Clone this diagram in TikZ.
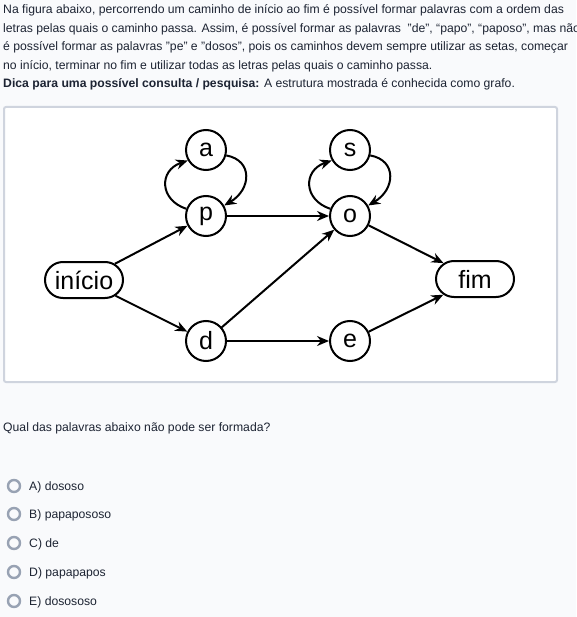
\documentclass[tikz,border=0pt]{standalone}
\usepackage{fontspec}
\setmainfont{Liberation Sans}
\usepackage{tikz}
\usetikzlibrary{shapes.misc}
\usetikzlibrary{arrows.meta}
\definecolor{fundo}{HTML}{F9FAFC}
\definecolor{moldura}{HTML}{CFD4DE}
\definecolor{texto}{HTML}{1D2433}
\definecolor{radio}{HTML}{98A2B3}
\tikzset{
  letra/.style={circle,draw,line width=2pt,minimum size=40pt,inner sep=0pt,
    font=\fontsize{25}{25}\selectfont}, % Buchstabenknoten
  ponta/.style={rounded rectangle,draw,line width=2pt,minimum width=82pt,
    minimum height=36pt,inner sep=2pt,font=\fontsize{25}{25}\selectfont}, % início / fim
  Seta/.style={line width=2pt,->}, % Kanten
  linha/.style={anchor=base west,inner sep=0pt,text=texto,
    font=\fontsize{12.2}{15}\selectfont}, % Textzeilen
  opcao/.style={circle,draw=radio,line width=2.4pt,minimum size=12pt,inner sep=0pt}
}

\begin{document}
\begin{tikzpicture}[x=1pt,y=-1pt,
>={Stealth[length=12pt,width=10pt]} % Voreinstellung für Pfeilspitzen
]
\useasboundingbox[fill=fundo] (0,0) rectangle (576,617);

%Text
\node[linha] (l1) at (3,14) {Na figura abaixo, percorrendo um caminho de início ao fim é possível formar palavras com a ordem das};
\node[linha] (l2) at (3,32.5) {letras pelas quais o caminho passa. Assim, é possível formar as palavras\ \ "de", “papo”, “paposo”, mas não};
\node[linha] (l3) at (3,51) {é possível formar as palavras "pe" e "dosos", pois os caminhos devem sempre utilizar as setas, começar};
\node[linha] (l4) at (3,69.5) {no início, terminar no fim e utilizar todas as letras pelas quais o caminho passa.};
\node[linha] (l5) at (3,88) {\bfseries Dica para uma possível consulta / pesquisa:\mdseries{} A estrutura mostrada é conhecida como grafo.};

%Rahmen
\draw[moldura,line width=2pt,fill=white,rounded corners=2pt] (4,107) rectangle (557,382);

%Knoten
\node[ponta] (inicio) at (84,280) {início};
\node[letra] (a) at (206,150) {a};
\node[letra] (p) at (206,216) {p};
\node[letra] (d) at (206,341) {d};
\node[letra] (s) at (350,150) {s};
\node[letra] (o) at (350,216) {o};
\node[letra] (e) at (350,341) {e};
\node[ponta] (fim) at (475,279) {fim};

%Kanten
\draw[Seta] (inicio) -- (p);
\draw[Seta] (inicio) -- (d);
\draw[Seta] (p) -- (o);
\draw[Seta] (d) -- (o);
\draw[Seta] (d) -- (e);
\draw[Seta] (o) -- (fim);
\draw[Seta] (e) -- (fim);
%Schleifen
\draw[Seta] (p.160) .. controls +(-27,-9) and +(-29,10) .. (a.210);
\draw[Seta] (a.-15) .. controls +(27,5) and +(27,-16) .. (p.30);
\draw[Seta] (o.160) .. controls +(-27,-9) and +(-29,10) .. (s.210);
\draw[Seta] (s.-15) .. controls +(27,5) and +(27,-16) .. (o.30);

%Frage
\node[linha] (frage) at (3,431) {Qual das palavras abaixo não pode ser formada?};
\foreach \y/\n/\t in {486/A/A) dososo, 514/B/B) papapososo, 543/C/C) de,
                      572/D/D) papapapos, 601/E/E) dosososo}{
  \node[opcao] (r\n) at (14,\y) {};
  \node[linha] (t\n) at (29,\y+4.5) {\t};
}
\end{tikzpicture}
\end{document}
